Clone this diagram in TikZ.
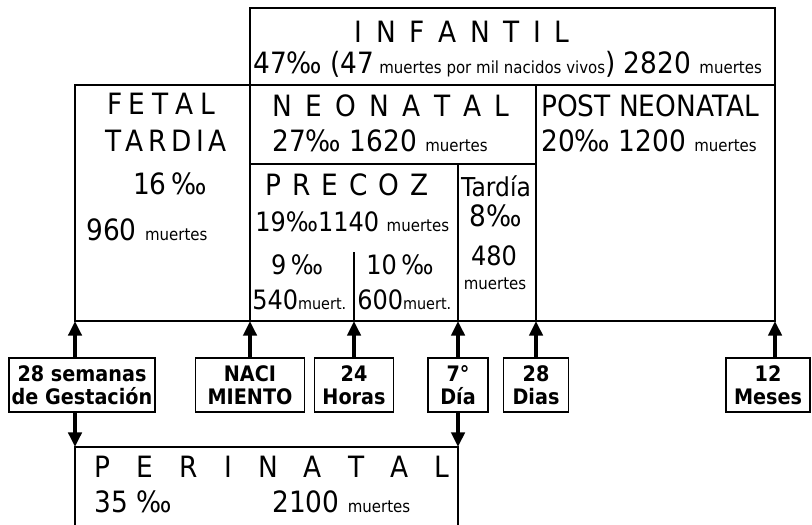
\documentclass[tikz,border=0pt]{standalone}
\usepackage{fontspec}
\setmainfont{DejaVu Sans}[FakeStretch=0.9]
\usetikzlibrary{arrows.meta, positioning, calc}

\newcommand{\grande}{\fontsize{22}{25}\selectfont}
\newcommand{\medio}{\fontsize{20}{23}\selectfont}
\newcommand{\chico}{\fontsize{12.5}{14}\selectfont}
\newcommand{\espaciado}[2]{\makebox[#1][s]{\spaceskip=0pt plus 1fil\relax #2}}

\begin{document}
\begin{tikzpicture}[
      x=0.75pt,
      y=-0.75pt,
      font=\grande,
      frame/.style={
        line width=1.4pt,
        draw=black
      },
      txt/.style={
        inner sep=0pt
      },
      tick/.style={
        draw,
        line width=1.4pt,
        font=\fontsize{16}{17.5}\selectfont\bfseries,
        align=center,
        inner sep=2pt,
        minimum height=40.5pt
      },
      arr/.style={
        -{Triangle[length=11pt, width=10pt]},
        line width=2.6pt
      }
  ]
    \useasboundingbox (0,0) rectangle (812,524);

    % Celdas
    \draw[frame] (250,8) rectangle (775,85);
    \draw[frame] (75,85) rectangle (775,321);
    \draw[frame] (250,85) -- (250,321);
    \draw[frame] (536,85) -- (536,321);
    \draw[frame] (250,164) -- (536,164);
    \draw[frame] (458,164) -- (458,321);
    \draw[line width=1.2pt] (354,252) -- (354,321);
    \draw[frame] (75,530) -- (75,447) -- (458,447) -- (458,530);

    \coordinate (fetSW) at (75,321);
    \coordinate (fetSE) at (250,321);
    \coordinate (preM) at (354,321);
    \coordinate (tarSW) at (458,321);
    \coordinate (tarSE) at (536,321);
    \coordinate (postSE) at (775,321);
    \coordinate (periNW) at (75,447);
    \coordinate (periNE) at (458,447);

    % Infantil
    \node[txt] (infT) at (462,32) {\espaciado{161pt}{I N F A N T I L}};
    \node[txt, anchor=west] (infN) at (253,64)
      {47‰ (47{\chico\ muertes por mil nacidos vivos}) 2820 {\chico muertes}};

    % Fetal tardia
    \node[txt] (fetT) at (161,104) {\espaciado{81pt}{F E T A L}};
    \node[txt] (fetT2) at (166,141) {\espaciado{91.5pt}{T A R D I A}};
    \node[txt] (fetP) at (170,184) {16\,‰};
    \node[txt, anchor=west] (fetN) at (86,230) {960 {\chico muertes}};

    % Neonatal
    \node[txt] (neoT) at (391,106) {\espaciado{178pt}{N E O N A T A L}};
    \node[txt, anchor=west] (neoN) at (272,141) {27‰ 1620 {\chico muertes}};

    % Post neonatal
    \node[txt, anchor=west] (postT) at (541,106) {POST NEONATAL};
    \node[txt, anchor=west] (postN) at (541,141) {20‰ 1200 {\chico muertes}};

    % Precoz
    \node[txt] (preT) at (347,185) {\espaciado{122pt}{P R E C O Z}};
    \node[txt, anchor=west, font=\medio] (preN) at (255,222) {19‰1140 {\chico muertes}};
    \node[txt, font=\medio] (pre9) at (297,265) {9\,‰};
    \node[txt, font=\medio] (pre10) at (400,265) {10\,‰};
    \node[txt, anchor=west, font=\medio] (pre9N) at (252,300) {540{\fontsize{12}{13}\selectfont muert.}};
    \node[txt, anchor=west, font=\medio] (pre10N) at (357,300) {600{\fontsize{12}{13}\selectfont muert.}};

    % Tardia
    \node[txt, font=\fontsize{19.5}{22}\selectfont] (tarT) at (496,186) {Tardía};
    \node[txt] (tarP) at (496,216) {8‰};
    \node[txt, font=\medio] (tarN) at (494,256) {480};
    \node[txt, font=\chico] (tarM) at (495,284) {muertes};

    % Perinatal
    \node[txt] (periT) at (272,467) {\espaciado{266pt}{P E R I N A T A L}};
    \node[txt, anchor=west] (periP) at (94,502) {35 ‰};
    \node[txt, anchor=west] (periN) at (272,502) {2100 {\chico muertes}};

    % Hitos
    \node[tick, minimum width=109.5pt] (sem) at (82,385) {28 semanas\\de Gestación};
    \node[tick, minimum width=81.75pt] (naci) at (250,385) {NACI\\MIENTO};
    \node[tick, minimum width=59.25pt] (horas) at (354,385) {24\\Horas};
    \node[tick, minimum width=45pt] (dia7) at (458,385) {7°\\Día};
    \node[tick, minimum width=48.75pt] (dias28) at (536,385) {28\\Dias};
    \node[tick, minimum width=63pt] (meses) at (768,385) {12\\Meses};

    \draw[arr] (sem.north -| fetSW) -- (fetSW);
    \draw[arr] (naci.north -| fetSE) -- (fetSE);
    \draw[arr] (horas.north -| preM) -- (preM);
    \draw[arr] (dia7.north -| tarSW) -- (tarSW);
    \draw[arr] (dias28.north -| tarSE) -- (tarSE);
    \draw[arr] (meses.north -| postSE) -- (postSE);
    \draw[arr] (sem.south -| periNW) -- (periNW);
    \draw[arr] (dia7.south -| periNE) -- (periNE);

  \end{tikzpicture}
\end{document}
